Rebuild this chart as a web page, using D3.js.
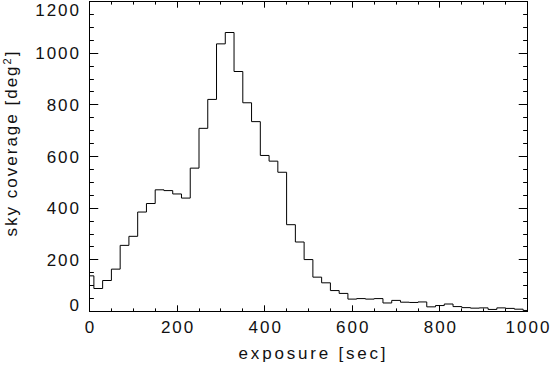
<!DOCTYPE html>
<html>
<head>
<meta charset="utf-8">
<script src="https://cdn.jsdelivr.net/npm/d3@7"></script>
<style>
  html, body { margin: 0; padding: 0; background: #fff; }
  svg { display: block; }
  text { font-family: "Liberation Sans", Arial, sans-serif; font-size: 17px; letter-spacing: 2px; fill: #111; }
</style>
</head>
<body>
<script>
// ---- data ----
const binCenters = d3.range(0, 1001, 20); // exposure bin centers [sec]
const coverage = [
  138, 89, 120, 164, 256, 291, 385, 418, 471, 468,
  455, 439, 555, 709, 821, 1036, 1080, 929, 808, 735,
  604, 582, 539, 336, 269, 201, 133, 111, 81, 70,
  48, 50, 48, 50, 33, 43, 36, 35, 37, 18,
  23, 29, 19, 15, 13, 14, 8, 14, 12, 9,
  4
];
const xTicks = [0, 200, 400, 600, 800, 1000];
const yTicks = [0, 200, 400, 600, 800, 1000, 1200];
const xMinorStep = 50;
const yMinorStep = 50;
const xTitle = "exposure [sec]";
const yTitle = "sky coverage [deg";

// ---- layout ----
const W = 550, H = 370;
const mLeft = 89.5, mRight = 527.5, mTop = 1.5, mBottom = 311.5;

const svg = d3.select("body").append("svg").attr("width", W).attr("height", H);

const x = d3.scaleLinear().domain([0, 1000]).range([mLeft, mRight]);
const y = d3.scaleLinear().domain([0, 1200]).range([mBottom, mTop]);

const pw = mRight - mLeft, ph = mBottom - mTop;
const xMajorLen = 0.02 * ph, xMinorLen = xMajorLen / 2;
const yMajorLen = 0.02 * pw, yMinorLen = yMajorLen / 2;

const g = svg.append("g").attr("stroke", "#000").attr("stroke-width", 1).attr("fill", "none");

// histogram (step)
const data = binCenters.map((c, i) => [c, coverage[i]]);
const line = d3.line().x(d => x(d[0])).y(d => y(d[1])).curve(d3.curveStep);
g.append("path").attr("d", line(data));

// frame
g.append("rect").attr("x", mLeft).attr("y", mTop).attr("width", pw).attr("height", ph);

// x ticks (bottom & top, inward)
const xMinor = d3.range(0, 1001, xMinorStep).filter(v => !xTicks.includes(v));
xTicks.forEach(v => {
  const px = Math.round(x(v) - 0.5) + 0.5;
  g.append("line").attr("x1", px).attr("x2", px).attr("y1", mBottom).attr("y2", mBottom - xMajorLen);
  g.append("line").attr("x1", px).attr("x2", px).attr("y1", mTop).attr("y2", mTop + xMajorLen);
});
xMinor.forEach(v => {
  const px = Math.round(x(v) - 0.5) + 0.5;
  g.append("line").attr("x1", px).attr("x2", px).attr("y1", mBottom).attr("y2", mBottom - xMinorLen);
  g.append("line").attr("x1", px).attr("x2", px).attr("y1", mTop).attr("y2", mTop + xMinorLen);
});

// y ticks (left & right, inward)
const yMinor = d3.range(0, 1201, yMinorStep).filter(v => !yTicks.includes(v));
yTicks.forEach(v => {
  const py = Math.round(y(v) - 0.5) + 0.5;
  g.append("line").attr("y1", py).attr("y2", py).attr("x1", mLeft).attr("x2", mLeft + yMajorLen);
  g.append("line").attr("y1", py).attr("y2", py).attr("x1", mRight).attr("x2", mRight - yMajorLen);
});
yMinor.forEach(v => {
  const py = Math.round(y(v) - 0.5) + 0.5;
  g.append("line").attr("y1", py).attr("y2", py).attr("x1", mLeft).attr("x2", mLeft + yMinorLen);
  g.append("line").attr("y1", py).attr("y2", py).attr("x1", mRight).attr("x2", mRight - yMinorLen);
});

// x tick labels
svg.append("g").selectAll("text").data(xTicks).join("text")
  .attr("x", d => x(d) + 1)
  .attr("y", 333)
  .attr("text-anchor", "middle")
  .text(d => d);

// y tick labels
svg.append("g").selectAll("text").data(yTicks).join("text")
  .attr("x", 81)
  .attr("y", d => Math.max(10, Math.min(305, y(d))) + 6)
  .attr("text-anchor", "end")
  .text(d => d);

// axis titles
svg.append("text")
  .attr("x", (mLeft + mRight) / 2 + 5)
  .attr("y", 359)
  .attr("text-anchor", "middle")
  .style("letter-spacing", "2.8px")
  .text(xTitle);

const yt = svg.append("text")
  .attr("transform", "translate(17,143) rotate(-90)")
  .attr("text-anchor", "middle");
yt.append("tspan").text(yTitle);
yt.append("tspan").attr("font-size", "11px").attr("dy", "-6").text("2");
yt.append("tspan").attr("dy", "6").text("]");
</script>
</body>
</html>
